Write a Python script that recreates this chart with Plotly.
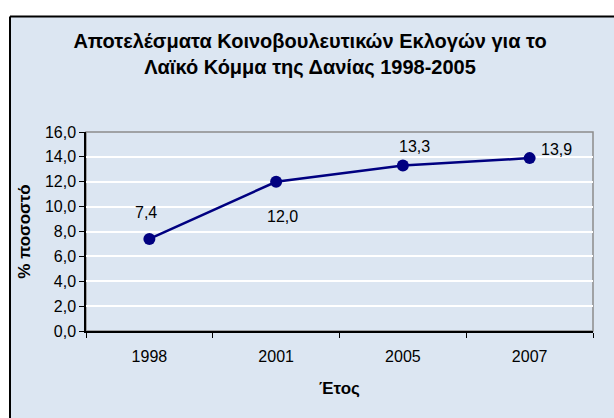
import plotly.graph_objects as go

years = ["1998", "2001", "2005", "2007"]
share = [7.4, 12.0, 13.3, 13.9]
labels = ["7,4", "12,0", "13,3", "13,9"]
y_ticks = [0, 2, 4, 6, 8, 10, 12, 14, 16]
y_tick_text = ["0,0", "2,0", "4,0", "6,0", "8,0", "10,0", "12,0", "14,0", "16,0"]

# label offsets in pixels (style only)
label_dx = [-3, 6, 12, 27]
label_dy = [26, -35, 19, 9]

W, H = 614, 418
L, R, T, B = 86, 21, 132, 87
pw, ph = W - L - R, H - T - B

def px_x(p):
    return (p - L) / pw

def px_y(p):
    return (H - B - p) / ph

BG = "#DCE6F2"
NAVY = "#000080"
FONT = "Liberation Sans, Arial, sans-serif"

fig = go.Figure()
fig.add_trace(go.Scatter(
    x=years, y=share, mode="lines+markers",
    line=dict(color=NAVY, width=2.5),
    marker=dict(color=NAVY, size=12),
    hoverinfo="skip", showlegend=False,
))

for i, (yv, t, dx, dy) in enumerate(zip(share, labels, label_dx, label_dy)):
    fig.add_annotation(x=i, y=yv, xref="x", yref="y", text=t, showarrow=False,
                       xshift=dx, yshift=dy, xanchor="center", yanchor="middle",
                       font=dict(family=FONT, size=16, color="#000000"))

# white margins outside the chart box (top strip and left strip)
fig.add_shape(type="rect", xref="paper", yref="paper",
              x0=px_x(0), x1=px_x(W), y0=px_y(16), y1=px_y(0),
              fillcolor="#FFFFFF", line=dict(width=0), layer="below")
fig.add_shape(type="rect", xref="paper", yref="paper",
              x0=px_x(0), x1=px_x(10), y0=px_y(H), y1=px_y(0),
              fillcolor="#FFFFFF", line=dict(width=0), layer="below")
# chart box border (top and left edges visible)
fig.add_shape(type="line", xref="paper", yref="paper",
              x0=px_x(10), x1=px_x(W), y0=px_y(16.5), y1=px_y(16.5),
              line=dict(color="#000000", width=2), layer="below")
fig.add_shape(type="line", xref="paper", yref="paper",
              x0=px_x(10), x1=px_x(10), y0=px_y(H), y1=px_y(16.5),
              line=dict(color="#000000", width=2), layer="below")
# plot area border
fig.add_shape(type="rect", xref="paper", yref="paper",
              x0=0, x1=1, y0=0, y1=1,
              fillcolor=BG, line=dict(color="#8C8C8C", width=1.5), layer="below")

fig.update_layout(
    width=W, height=H,
    margin=dict(l=L, r=R, t=T, b=B),
    paper_bgcolor=BG,
    plot_bgcolor=BG,
    font=dict(family=FONT, size=16, color="#000000"),
    title=dict(
        text="Αποτελέσματα Κοινοβουλευτικών Εκλογών για το<br>Λαϊκό Κόμμα της Δανίας 1998-2005",
        x=310 / W, xref="container", xanchor="center",
        y=1 - 48 / H, yref="container", yanchor="middle",
        font=dict(family=FONT, size=20, color="#000000", weight="bold"),
    ),
    xaxis=dict(
        type="category", range=[-0.5, 3.5],
        showgrid=False, showline=True, linecolor="#000000", linewidth=1.5,
        ticks="outside", tickson="boundaries", ticklen=5, tickcolor="#000000",
        tickfont=dict(family=FONT, size=16), ticklabelstandoff=10,
        title=dict(text="Έτος", font=dict(family=FONT, size=17, weight="bold"), standoff=18),
        zeroline=False, fixedrange=True,
    ),
    yaxis=dict(
        range=[0, 16], tickvals=y_ticks, ticktext=y_tick_text,
        showgrid=True, gridcolor="#FFFFFF", gridwidth=1.5,
        showline=True, linecolor="#000000", linewidth=1.5,
        ticks="outside", ticklen=5, tickcolor="#000000",
        tickfont=dict(family=FONT, size=16),
        title=dict(text="% ποσοστό", font=dict(family=FONT, size=17, weight="bold"), standoff=10),
        zeroline=False, fixedrange=True,
    ),
)

fig.write_html("out.html", config={"displayModeBar": False},
               post_script="document.body.style.margin='0';document.body.style.overflow='hidden';")
